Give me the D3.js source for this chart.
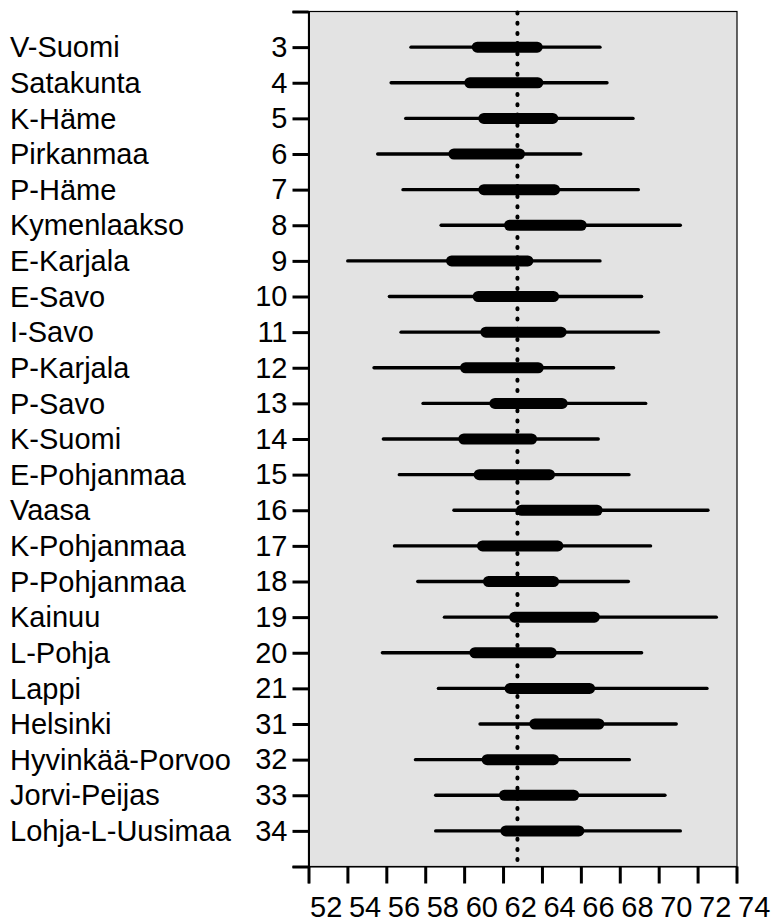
<!DOCTYPE html>
<html>
<head>
<meta charset="utf-8">
<script src="https://cdn.jsdelivr.net/npm/d3@7"></script>
<style>
  html, body { margin: 0; padding: 0; background: #ffffff; }
  svg { display: block; }
  text { font-family: "Liberation Sans", Arial, sans-serif; fill: #000; }
</style>
</head>
<body>
<svg id="chart" width="772" height="923"></svg>
<script>
// Hospital districts and their codes
const regions = ["V-Suomi","Satakunta","K-Häme","Pirkanmaa","P-Häme","Kymenlaakso","E-Karjala","E-Savo","I-Savo","P-Karjala","P-Savo","K-Suomi","E-Pohjanmaa","Vaasa","K-Pohjanmaa","P-Pohjanmaa","Kainuu","L-Pohja","Lappi","Helsinki","Hyvinkää-Porvoo","Jorvi-Peijas","Lohja-L-Uusimaa"];
const codes = [3,4,5,6,7,8,9,10,11,12,13,14,15,16,17,18,19,20,21,31,32,33,34];

// Wide interval (thin line)
const outerLow  = [57.18,56.16,56.91,55.47,56.77,58.73,53.93,56.07,56.67,55.28,57.80,55.76,56.58,59.39,56.33,57.53,58.90,55.71,58.59,60.73,57.41,58.45,58.45];
const outerHigh = [67.07,67.43,68.77,66.08,69.04,71.20,67.07,69.21,70.07,67.77,69.42,66.98,68.56,72.62,69.67,68.53,73.05,69.21,72.57,70.99,68.58,70.41,71.20];
// Narrow interval (thick bar)
const innerLow  = [60.39,60.01,60.73,59.19,60.73,62.05,59.07,60.44,60.83,59.79,61.30,59.70,60.49,62.67,60.66,60.97,62.31,60.27,62.08,63.35,60.90,61.79,61.86];
const innerHigh = [64.04,64.07,64.84,63.13,64.93,66.30,63.56,64.88,65.27,64.09,65.32,63.75,64.67,67.12,65.10,64.88,66.98,64.76,66.73,67.21,64.88,65.92,66.18];

// Overall reference value (dotted line)
const referenceValue = 62.74;

// X axis ticks
const xTicks = [52,54,56,58,60,62,64,66,68,70,72,74];

(function draw() {
  const svg = d3.select("#chart");
  const fontSize = 29;

  const pl = 308.5, pr = 736.5, pt = 11.5, pb = 866.5;

  const x = d3.scaleLinear().domain([52, 74]).range([pl, pr]);
  // one empty slot above and below the rows
  const y = d3.scaleLinear().domain([-1, regions.length]).range([pt, pb]);

  // plot background
  svg.append("rect")
    .attr("x", pl).attr("y", pt)
    .attr("width", pr - pl + 0.5).attr("height", pb - pt)
    .attr("fill", "#e3e3e3")
    .attr("stroke", "#000").attr("stroke-width", 1.2);

  const rows = regions.map((r, i) => ({
    name: r, code: codes[i],
    oLo: outerLow[i], oHi: outerHigh[i], iLo: innerLow[i], iHi: innerHigh[i], i
  }));

  const thinH = 3.4, thickH = 11;

  // wide interval lines
  svg.append("g").selectAll("rect")
    .data(rows).join("rect")
    .attr("x", d => x(d.oLo))
    .attr("width", d => x(d.oHi) - x(d.oLo))
    .attr("y", d => y(d.i) - thinH / 2)
    .attr("height", thinH)
    .attr("rx", thinH / 2)
    .attr("fill", "#000");

  // narrow interval bars
  svg.append("g").selectAll("rect")
    .data(rows).join("rect")
    .attr("x", d => x(d.iLo))
    .attr("width", d => x(d.iHi) - x(d.iLo))
    .attr("y", d => y(d.i) - thickH / 2)
    .attr("height", thickH)
    .attr("rx", thickH / 2)
    .attr("fill", "#000");

  // dotted reference line
  svg.append("line")
    .attr("x1", x(referenceValue)).attr("x2", x(referenceValue))
    .attr("y1", pt + 1).attr("y2", pb)
    .attr("stroke", "#000")
    .attr("stroke-width", 4)
    .attr("stroke-linecap", "round")
    .attr("stroke-dasharray", "1 9.2");

  // left axis with district codes
  const yAxis = d3.axisLeft(y)
    .tickValues(d3.range(-1, regions.length + 1))
    .tickFormat(v => (v >= 0 && v < codes.length) ? codes[v] : "")
    .tickSize(16)
    .tickPadding(5);

  const gy = svg.append("g")
    .attr("transform", `translate(${pl},0)`)
    .call(yAxis);
  gy.select(".domain").attr("stroke", "#000").attr("stroke-width", 2);
  gy.selectAll(".tick line").attr("stroke", "#000").attr("stroke-width", 3);
  gy.selectAll(".tick text")
    .attr("font-size", fontSize)
    .attr("font-family", "'Liberation Sans', Arial, sans-serif")
    .attr("fill", "#000");

  // district names
  svg.append("g").selectAll("text")
    .data(rows).join("text")
    .attr("x", 10)
    .attr("y", d => y(d.i))
    .attr("dy", "0.35em")
    .attr("font-size", fontSize)
    .text(d => d.name);

  // bottom axis
  const xAxis = d3.axisBottom(x)
    .tickValues(xTicks)
    .tickSize(17)
    .tickPadding(4);

  const gx = svg.append("g")
    .attr("transform", `translate(0,${pb})`)
    .call(xAxis);
  gx.select(".domain").attr("stroke", "#000").attr("stroke-width", 1.2);
  gx.selectAll(".tick line").attr("stroke", "#000").attr("stroke-width", 3);
  gx.selectAll(".tick text")
    .attr("font-size", fontSize)
    .attr("font-family", "'Liberation Sans', Arial, sans-serif")
    .attr("fill", "#000")
    .attr("text-anchor", "start")
    .attr("x", 1)
    .attr("y", 30)
    .attr("dy", "0.71em");
})();
</script>
</body>
</html>
